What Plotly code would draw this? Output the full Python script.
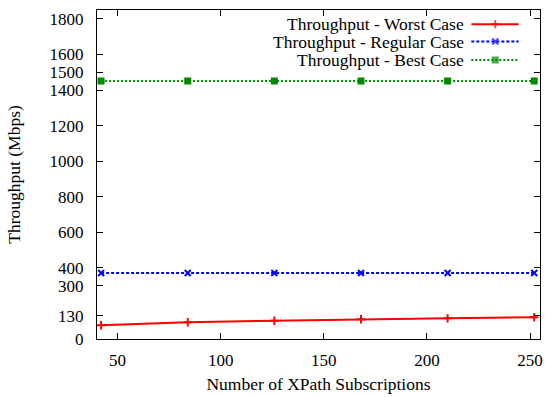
import plotly.graph_objects as go

subscriptions = [42, 84, 126, 168, 210, 252]
worst_case = [77, 94, 103, 111, 116, 122]
regular_case = [371, 371, 371, 371, 371, 371]
best_case = [1451, 1451, 1451, 1451, 1451, 1451]

series_names = ["Throughput - Worst Case", "Throughput - Regular Case", "Throughput - Best Case"]
series_colors = ["#ff0000", "#0000ff", "#008a00"]
series_dash = ["solid", "3px,2px", "2px,2px"]
series_symbols = ["cross-thin", "x-thin", "square"]
marker_sizes = [6, 6, 5]

y_ticks = [0, 130, 300, 400, 600, 800, 1000, 1200, 1400, 1500, 1600, 1800]
x_ticks = [50, 100, 150, 200, 250]

FONT = "Liberation Serif, Times New Roman, Times, serif"
FS = 17.5
TFS = 17

fig = go.Figure()
for name, ys, col, dash, sym, ms in zip(series_names, [worst_case, regular_case, best_case],
                                        series_colors, series_dash, series_symbols, marker_sizes):
    fig.add_trace(go.Scatter(
        x=subscriptions, y=ys, mode="lines+markers", name=name,
        line=dict(color=col, width=2, dash=dash),
        marker=dict(symbol=sym, size=ms, color=col, line=dict(color=col, width=2)),
        showlegend=False,
    ))

# custom gnuplot-style key (text left, sample right) on an overlay axis
legend_rows = [0.957, 0.904, 0.848]
for name, col, dash, sym, ms, yr in zip(series_names, series_colors, series_dash,
                                         series_symbols, marker_sizes, legend_rows):
    fig.add_trace(go.Scatter(
        x=[0.845, 0.899, 0.952], y=[yr, yr, yr], mode="lines+markers",
        xaxis="x2", yaxis="y2", showlegend=False, hoverinfo="skip",
        line=dict(color=col, width=2, dash=dash),
        marker=dict(symbol=sym, size=[0, ms, 0], color=col, line=dict(color=col, width=2)),
    ))
    fig.add_annotation(x=0.832, y=yr, xref="paper", yref="paper", text=name,
                       showarrow=False, xanchor="right", yanchor="middle",
                       font=dict(family=FONT, size=FS, color="black"))

axis_common = dict(showgrid=False, zeroline=False, showline=True, linecolor="black",
                   linewidth=1, mirror="ticks", ticks="inside", ticklen=6,
                   tickcolor="black", tickfont=dict(family=FONT, size=TFS, color="black"))

fig.update_layout(
    width=547, height=397,
    margin=dict(l=97, r=4, t=10, b=58),
    paper_bgcolor="white", plot_bgcolor="white",
    font=dict(family=FONT, size=FS, color="black"),
    xaxis=dict(range=[40, 254.8], tickvals=x_ticks, ticklabelstandoff=6,
               title=dict(text="Number of XPath Subscriptions", standoff=8,
                          font=dict(family=FONT, size=FS, color="black")),
               **axis_common),
    yaxis=dict(range=[0, 1850], tickvals=y_ticks, ticklabelstandoff=9,
               title=dict(text="Throughput (Mbps)", standoff=24,
                          font=dict(family=FONT, size=FS, color="black")),
               **axis_common),
    xaxis2=dict(overlaying="x", range=[0, 1], visible=False),
    yaxis2=dict(overlaying="y", range=[0, 1], visible=False),
)

fig.write_html(
    "out.html",
    config={"displayModeBar": False},
    post_script="document.body.style.margin='0';document.body.style.padding='0';"
                "document.body.style.overflow='hidden';"
                "document.documentElement.style.overflow='hidden';",
)
